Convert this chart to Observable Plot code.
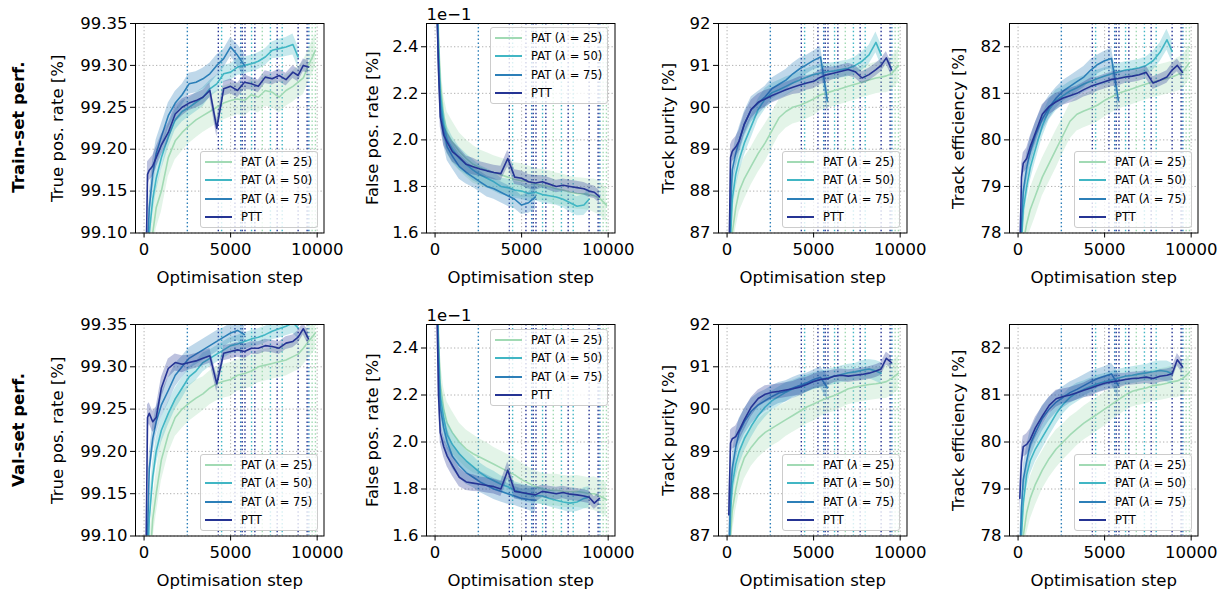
<!DOCTYPE html>
<html><head><meta charset="utf-8">
<script src="https://cdn.jsdelivr.net/npm/d3@7"></script>
<script src="https://cdn.jsdelivr.net/npm/@observablehq/plot@0.6"></script>
<style>
body{margin:0;background:#fff;}
#fig{position:relative;width:1229px;height:594px;overflow:hidden;font-family:"DejaVu Sans",sans-serif;color:#000;}
.panel{position:absolute;}
.panel svg{overflow:visible;background:transparent;max-width:none;}
.legend{position:absolute;background:rgba(255,255,255,0.8);border:1px solid #cccccc;border-radius:3px;box-sizing:border-box;width:118px;height:77px;}
.lrow{position:absolute;left:0;height:0;width:100%;}
.lline{position:absolute;left:4px;top:-1px;width:27px;height:2px;}
.ltext{position:absolute;left:40px;top:-7px;font-size:11.5px;line-height:14px;white-space:nowrap;}
.rowlab{position:absolute;transform:translate(-50%,-50%) rotate(-90deg);font-weight:bold;font-size:16.5px;white-space:nowrap;}
</style></head><body><div id="fig"></div>
<script>
// ---------- data ----------
const steps = [100,200,300,500,700,1000,1400,1800,2200,2600,3000,3400,3800,4200,4600,5000,5400,5800,6200,6600,7000,7400,7800,8200,8600,8900,9200,9500,9900];
const seriesNames = ["PAT (λ = 25)","PAT (λ = 50)","PAT (λ = 75)","PTT"];
const colors = ["#a1dab4","#41b6c4","#2c7fb8","#253494"];
const rowNames = ["Train-set perf.","Val-set perf."];
const xTicks = [0,5000,10000];
const tprTicks = [99.10,99.15,99.20,99.25,99.30,99.35];
const fprTicks = [1.6,1.8,2.0,2.2,2.4];
const purTicks = [87,88,89,90,91,92];
const effTicks = [78,79,80,81,82];
const vlineSteps  = [2500,4290,4480,5250,5580,5670,5830,6210,6400,6830,7300,7690,7980,8900,9420,9520,9710,9900];
const vlineSeries = [2,3,1,3,2,3,3,1,3,0,1,3,1,3,3,2,0,0];

// Train TPR
const trainTPR_pat25 = [98.95,99.02,99.06,99.10,99.13,99.15,99.19,99.21,99.22,99.228,99.235,99.24,99.245,99.25,99.255,99.258,99.26,99.258,99.265,99.262,99.27,99.268,99.262,99.27,99.275,99.28,99.285,99.30,99.318];
const trainTPR_pat50 = [98.98,99.05,99.10,99.14,99.165,99.19,99.215,99.235,99.245,99.25,99.256,99.262,99.272,99.278,99.29,99.292,99.298,99.30,99.302,99.305,99.31,99.318,99.32,99.322,99.325,99.31];
const trainTPR_pat75 = [99.00,99.08,99.13,99.17,99.195,99.215,99.24,99.255,99.265,99.278,99.28,99.284,99.29,99.30,99.308,99.322,99.312,99.30];
const trainTPR_ptt   = [99.04,99.17,99.175,99.18,99.19,99.205,99.22,99.242,99.25,99.255,99.258,99.262,99.27,99.225,99.272,99.275,99.27,99.28,99.278,99.275,99.286,99.284,99.288,99.283,99.292,99.288,99.30,99.298];
// Train FPR (x 1e-1)
const trainFPR_pat25 = [2.7,2.45,2.25,2.1,2.03,1.99,1.95,1.92,1.895,1.88,1.868,1.86,1.85,1.84,1.83,1.825,1.82,1.81,1.805,1.80,1.79,1.785,1.775,1.77,1.768,1.765,1.76,1.75,1.72];
const trainFPR_pat50 = [2.65,2.4,2.2,2.07,2.0,1.96,1.92,1.895,1.87,1.85,1.835,1.82,1.80,1.795,1.785,1.78,1.77,1.775,1.765,1.76,1.755,1.745,1.73,1.715,1.72,1.745];
const trainFPR_pat75 = [2.6,2.35,2.15,2.04,1.97,1.93,1.885,1.86,1.84,1.82,1.80,1.79,1.775,1.76,1.745,1.72,1.73,1.755];
const trainFPR_ptt   = [2.6,2.3,2.1,2.02,1.99,1.95,1.925,1.895,1.885,1.875,1.867,1.86,1.855,1.92,1.84,1.835,1.82,1.815,1.82,1.81,1.80,1.805,1.80,1.795,1.79,1.78,1.775,1.755];
// Train purity
const trainPur_pat25 = [84.5,86.0,87.0,87.6,88.0,88.3,88.6,88.9,89.15,89.45,89.75,89.9,90.0,90.05,90.12,90.2,90.3,90.35,90.4,90.45,90.5,90.55,90.6,90.65,90.7,90.72,90.75,90.8,91.0];
const trainPur_pat50 = [85.0,86.8,87.8,88.4,88.75,89.15,89.55,89.95,90.2,90.35,90.42,90.5,90.58,90.65,90.72,90.78,90.82,90.85,90.87,90.9,90.93,91.0,91.1,91.25,91.55,91.25];
const trainPur_pat75 = [85.5,87.5,88.5,88.9,89.2,89.6,89.95,90.1,90.25,90.45,90.55,90.65,90.8,90.92,91.02,91.12,91.2,90.15];
const trainPur_ptt   = [86.0,88.8,88.95,89.05,89.2,89.6,89.95,90.12,90.2,90.28,90.35,90.42,90.48,90.53,90.58,90.62,90.72,90.78,90.82,90.86,90.9,90.85,90.7,90.78,90.9,91.0,91.18,90.9];
// Train efficiency
const trainEff_pat25 = [76.5,77.3,77.8,78.2,78.5,78.8,79.2,79.5,79.8,80.1,80.4,80.55,80.62,80.68,80.75,80.85,80.92,81.0,81.05,81.1,81.15,81.2,81.25,81.28,81.32,81.35,81.4,81.45,81.66];
const trainEff_pat50 = [76.8,77.8,78.5,79.0,79.4,79.8,80.3,80.65,80.85,80.95,81.05,81.12,81.2,81.26,81.32,81.37,81.42,81.46,81.5,81.52,81.55,81.6,81.7,81.88,82.15,81.9];
const trainEff_pat75 = [77.0,78.2,78.9,79.4,79.75,80.1,80.45,80.7,80.9,81.05,81.15,81.25,81.35,81.5,81.62,81.7,81.75,80.85];
const trainEff_ptt   = [77.5,79.2,79.5,79.6,79.85,80.15,80.55,80.72,80.82,80.9,80.95,81.0,81.08,81.15,81.2,81.25,81.3,81.32,81.35,81.37,81.4,81.45,81.22,81.28,81.35,81.5,81.6,81.45];
// Val TPR
const valTPR_pat25 = [98.85,99.0,99.06,99.12,99.15,99.19,99.22,99.24,99.25,99.257,99.263,99.268,99.275,99.28,99.283,99.285,99.29,99.292,99.295,99.3,99.302,99.304,99.306,99.308,99.312,99.315,99.322,99.33,99.34];
const valTPR_pat50 = [98.9,99.05,99.12,99.17,99.2,99.225,99.245,99.262,99.275,99.288,99.295,99.305,99.31,99.315,99.32,99.325,99.327,99.33,99.333,99.335,99.338,99.342,99.345,99.348,99.352,99.346];
const valTPR_pat75 = [98.95,99.1,99.18,99.215,99.235,99.255,99.272,99.29,99.3,99.31,99.315,99.32,99.325,99.33,99.335,99.34,99.343,99.338];
const valTPR_ptt   = [99.05,99.24,99.245,99.235,99.24,99.275,99.298,99.305,99.303,99.305,99.307,99.31,99.313,99.28,99.316,99.318,99.32,99.318,99.322,99.322,99.325,99.324,99.322,99.328,99.33,99.335,99.345,99.333];
// Val FPR (x 1e-1)
const valFPR_pat25 = [2.8,2.45,2.25,2.14,2.08,2.04,2.0,1.97,1.95,1.935,1.92,1.905,1.89,1.875,1.86,1.84,1.825,1.81,1.8,1.795,1.795,1.79,1.788,1.79,1.785,1.78,1.78,1.77,1.755];
const valFPR_pat50 = [2.75,2.4,2.2,2.1,2.03,1.99,1.95,1.92,1.895,1.87,1.85,1.835,1.82,1.81,1.795,1.785,1.778,1.772,1.77,1.76,1.752,1.745,1.74,1.745,1.76,1.765];
const valFPR_pat75 = [2.7,2.35,2.15,2.06,2.0,1.94,1.9,1.87,1.85,1.83,1.815,1.8,1.79,1.78,1.77,1.76,1.755,1.752];
const valFPR_ptt   = [2.6,2.2,2.04,1.98,1.94,1.9,1.85,1.83,1.825,1.82,1.815,1.81,1.8,1.88,1.79,1.785,1.78,1.775,1.79,1.785,1.78,1.785,1.778,1.775,1.77,1.765,1.74,1.76];
// Val purity
const valPur_pat25 = [85.8,87.0,87.6,88.1,88.5,88.85,89.1,89.3,89.45,89.55,89.65,89.75,89.85,89.95,90.05,90.12,90.2,90.27,90.32,90.4,90.48,90.52,90.55,90.58,90.6,90.62,90.65,90.72,90.85];
const valPur_pat50 = [86.2,87.5,88.2,88.7,89.0,89.3,89.6,89.85,90.05,90.2,90.3,90.4,90.48,90.55,90.6,90.66,90.7,90.74,90.78,90.82,90.86,90.88,90.92,90.95,90.9,90.85];
const valPur_pat75 = [86.5,88.0,88.6,89.1,89.45,89.7,89.95,90.1,90.2,90.3,90.38,90.42,90.5,90.56,90.62,90.7,90.75,90.5];
const valPur_ptt   = [87.5,89.2,89.3,89.35,89.5,89.75,90.05,90.25,90.35,90.4,90.42,90.45,90.48,90.52,90.58,90.65,90.7,90.72,90.78,90.8,90.78,90.8,90.82,90.85,90.9,90.95,91.2,91.1];
// Val efficiency
const valEff_pat25 = [76.5,77.5,78.0,78.5,78.8,79.1,79.4,79.65,79.85,80.0,80.15,80.28,80.4,80.5,80.6,80.7,80.8,80.9,81.0,81.08,81.12,81.15,81.2,81.22,81.25,81.28,81.3,81.35,81.48];
const valEff_pat50 = [77.0,78.0,78.7,79.3,79.6,79.85,80.1,80.35,80.6,80.8,80.95,81.05,81.12,81.18,81.24,81.28,81.32,81.36,81.4,81.42,81.45,81.47,81.5,81.52,81.5,81.45];
const valEff_pat75 = [77.5,78.6,79.2,79.6,79.95,80.2,80.5,80.7,80.85,80.95,81.05,81.12,81.2,81.28,81.35,81.4,81.45,81.2];
const valEff_ptt   = [78.8,79.6,79.9,79.95,80.05,80.3,80.55,80.78,80.92,80.97,81.0,81.05,81.1,81.15,81.2,81.25,81.28,81.3,81.33,81.35,81.36,81.38,81.35,81.4,81.42,81.45,81.75,81.6];
// band half-width, as a fraction of each panel's y range
const spread_pat25 = [.14,.12,.11,.10,.10,.10,.09,.09,.09,.085,.085,.08,.08,.08,.08,.08,.075,.075,.075,.075,.075,.075,.075,.075,.075,.075,.08,.08,.08];
const spread_pat50 = [.10,.08,.07,.07,.065,.06,.055,.05,.05,.045,.045,.045,.04,.04,.04,.04,.04,.04,.04,.04,.04,.04,.045,.045,.05,.05];
const spread_pat75 = [.10,.08,.07,.07,.065,.06,.06,.055,.05,.05,.05,.05,.05,.05,.045,.045,.05,.06];
const spread_ptt   = [.08,.06,.05,.05,.05,.05,.045,.04,.04,.035,.035,.035,.035,.04,.035,.035,.035,.035,.03,.03,.03,.03,.03,.03,.03,.03,.03,.03];

// ---------- layout ----------
const spreads = [spread_pat25, spread_pat50, spread_pat75, spread_ptt];
const metrics = [
  {label:"True pos. rate [%]", domain:[99.10,99.35], ticks:tprTicks, fmt:d3.format(".2f"), labOff:78, legendTop:false},
  {label:"False pos. rate [%]", domain:[1.6,2.5], ticks:fprTicks, fmt:d3.format(".1f"), labOff:54, legendTop:true, offset:"1e\u22121"},
  {label:"Track purity [%]", domain:[87,92], ticks:purTicks, fmt:d3.format("d"), labOff:50, legendTop:false},
  {label:"Track efficiency [%]", domain:[78,82.5], ticks:effTicks, fmt:d3.format("d"), labOff:51, legendTop:false}
];
const rowsData = [
  [[trainTPR_pat25,trainTPR_pat50,trainTPR_pat75,trainTPR_ptt],[trainFPR_pat25,trainFPR_pat50,trainFPR_pat75,trainFPR_ptt],[trainPur_pat25,trainPur_pat50,trainPur_pat75,trainPur_ptt],[trainEff_pat25,trainEff_pat50,trainEff_pat75,trainEff_ptt]],
  [[valTPR_pat25,valTPR_pat50,valTPR_pat75,valTPR_ptt],[valFPR_pat25,valFPR_pat50,valFPR_pat75,valFPR_ptt],[valPur_pat25,valPur_pat50,valPur_pat75,valPur_ptt],[valEff_pat25,valEff_pat50,valEff_pat75,valEff_ptt]]
];
const frameLefts = [135,425.7,717.7,1009];
const frameW = 188.5;
const rowTops = [22.5,324];
const rowHeights = [209.5,211.5];
const rowCenters = [127,430];
const ML = 100, MR = 20, MT = 30, MB = 70;
const FS = 16.5;
const fig = document.getElementById("fig");

function makePanel(r, c) {
  const m = metrics[c];
  const seriesArr = rowsData[r][c];
  const range = m.domain[1] - m.domain[0];
  const marks = [
    Plot.gridX(xTicks, {stroke:"#b0b0b0", strokeOpacity:1, strokeWidth:1, strokeDasharray:"1.3,2.2"}),
    Plot.gridY(m.ticks, {stroke:"#b0b0b0", strokeOpacity:1, strokeWidth:1, strokeDasharray:"1.3,2.2"})
  ];
  colors.forEach((col, si) => {
    const vs = vlineSteps.filter((_, i) => vlineSeries[i] === si);
    marks.push(Plot.ruleX(vs, {stroke:col, strokeWidth:1.4, strokeDasharray:"1.5,2.4", clip:true}));
  });
  seriesArr.forEach((arr, si) => {
    const d = arr.map((v, k) => ({step:steps[k], v, lo:v - spreads[si][k]*range, hi:v + spreads[si][k]*range}));
    marks.push(Plot.areaY(d, {x:"step", y1:"lo", y2:"hi", fill:colors[si], fillOpacity:0.3, clip:true}));
    marks.push(Plot.lineY(d, {x:"step", y:"v", stroke:colors[si], strokeWidth:1.6, clip:true}));
  });
  marks.push(Plot.frame({stroke:"#000", strokeWidth:1}));
  marks.push(Plot.axisX({ticks:xTicks, tickFormat:d => String(d), tickSize:5, tickPadding:5, label:null, fontSize:FS}));
  marks.push(Plot.axisY({ticks:m.ticks, tickFormat:m.fmt, tickSize:5, tickPadding:3, label:null, fontSize:FS}));
  marks.push(Plot.text([m.label], {text:d => d, frameAnchor:"left", rotate:-90, dx:-m.labOff, lineAnchor:"middle", textAnchor:"middle", fontSize:FS}));
  marks.push(Plot.text(["Optimisation step"], {text:d => d, frameAnchor:"bottom", dy:45, lineAnchor:"middle", textAnchor:"middle", fontSize:FS}));
  if (m.offset) marks.push(Plot.text([m.offset], {text:d => d, frameAnchor:"top-left", dy:-4, textAnchor:"start", lineAnchor:"bottom", fontSize:FS}));
  const H = rowHeights[r];
  const svg = Plot.plot({
    width: ML + frameW + MR, height: MT + H + MB,
    marginLeft: ML, marginRight: MR, marginTop: MT, marginBottom: MB,
    style: {fontFamily:"DejaVu Sans", fontSize:FS + "px", background:"transparent", overflow:"visible"},
    x: {domain:[-495, 10395]},
    y: {domain:m.domain},
    marks
  });
  const wrap = document.createElement("div");
  wrap.className = "panel";
  wrap.style.left = (frameLefts[c] - ML) + "px";
  wrap.style.top = (rowTops[r] - MT) + "px";
  wrap.appendChild(svg);
  fig.appendChild(wrap);

  // legend
  const lg = document.createElement("div");
  lg.className = "legend";
  const right = Math.round(frameLefts[c] + frameW - 6);
  lg.style.left = (right - 118) + "px";
  lg.style.top = Math.round(m.legendTop ? rowTops[r] + 4.5 : rowTops[r] + H - 4.5 - 77) + "px";
  seriesNames.forEach((name, i) => {
    const row = document.createElement("div");
    row.className = "lrow";
    row.style.top = Math.round(10 + 18.4 * i) + "px";
    const ln = document.createElement("span");
    ln.className = "lline"; ln.style.background = colors[i];
    const tx = document.createElement("span");
    tx.className = "ltext";
    tx.innerHTML = name.replace("λ", "<i>λ</i>");
    row.appendChild(ln); row.appendChild(tx);
    lg.appendChild(row);
  });
  fig.appendChild(lg);
}

for (let r = 0; r < 2; r++) {
  for (let c = 0; c < 4; c++) makePanel(r, c);
  const lab = document.createElement("div");
  lab.className = "rowlab";
  lab.textContent = rowNames[r];
  lab.style.left = "18px";
  lab.style.top = rowCenters[r] + "px";
  fig.appendChild(lab);
}
</script></body></html>
